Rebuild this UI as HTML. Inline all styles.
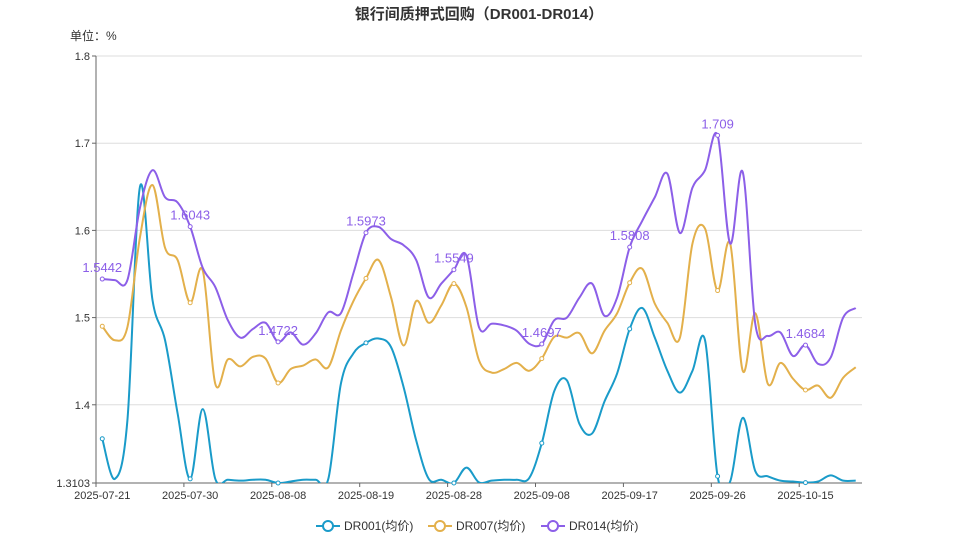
<!DOCTYPE html>
<html><head><meta charset="utf-8"><style>
body{margin:0;background:#fff;font-family:"Liberation Sans","Noto Sans CJK SC",sans-serif}
svg{display:block}
</style></head><body>
<svg id="chart" width="959" height="539" xmlns="http://www.w3.org/2000/svg" font-family="Liberation Sans, Noto Sans CJK SC, sans-serif">
<defs><clipPath id="plot"><rect x="96" y="40" width="770" height="443"/></clipPath></defs>
<text x="479" y="19" text-anchor="middle" font-size="15" font-weight="bold" fill="#333">银行间质押式回购（DR001-DR014）</text>
<text x="70" y="40" font-size="12" fill="#333">单位：%</text>
<g id="grid"></g><g id="axes"></g><g id="series"></g><g id="legend"></g>
</svg>
<script>
const dateLabels=["2025-07-21","2025-07-30","2025-08-08","2025-08-19","2025-08-28","2025-09-08","2025-09-17","2025-09-26","2025-10-15"];
const yTicks=[1.3103,1.4,1.5,1.6,1.7,1.8];
const dr001=[1.361,1.315,1.382,1.650,1.520,1.474,1.390,1.315,1.395,1.315,1.314,1.313,1.314,1.314,1.3103,1.312,1.314,1.314,1.315,1.424,1.459,1.471,1.476,1.466,1.420,1.359,1.315,1.314,1.3103,1.328,1.311,1.313,1.314,1.314,1.316,1.356,1.416,1.428,1.378,1.367,1.404,1.436,1.487,1.511,1.477,1.439,1.414,1.439,1.474,1.318,1.312,1.385,1.324,1.318,1.313,1.312,1.3107,1.312,1.319,1.313,1.313];
const dr007=[1.490,1.474,1.489,1.592,1.652,1.580,1.566,1.517,1.554,1.424,1.452,1.444,1.455,1.453,1.425,1.441,1.445,1.452,1.443,1.485,1.519,1.545,1.566,1.523,1.468,1.519,1.494,1.514,1.539,1.512,1.451,1.437,1.441,1.448,1.439,1.453,1.478,1.477,1.482,1.459,1.485,1.505,1.540,1.556,1.516,1.494,1.477,1.585,1.602,1.531,1.585,1.439,1.505,1.424,1.448,1.430,1.417,1.422,1.408,1.431,1.443];
const dr014=[1.5442,1.543,1.543,1.626,1.669,1.638,1.632,1.6043,1.557,1.535,1.497,1.477,1.487,1.494,1.4722,1.483,1.469,1.482,1.506,1.505,1.551,1.5973,1.604,1.590,1.583,1.566,1.523,1.539,1.5549,1.571,1.489,1.493,1.491,1.485,1.470,1.4697,1.497,1.500,1.523,1.539,1.502,1.523,1.5808,1.611,1.638,1.665,1.597,1.649,1.669,1.709,1.585,1.667,1.493,1.479,1.483,1.456,1.4684,1.447,1.454,1.500,1.511];
const seriesNames=["DR001(均价)","DR007(均价)","DR014(均价)"];
const colors=["#1a9bc9","#e3b04b","#8c5fe8"];
const NS="http://www.w3.org/2000/svg";
const L=96,R=862,T=56,B=483,N=dr014.length,yMin=1.3103,yMax=1.8;
const step=(R-L)/N;
const xs=i=>L+(i+0.5)*step;
const ys=v=>B-(v-yMin)/(yMax-yMin)*(B-T);
function mk(tag,attrs,parent){const e=document.createElementNS(NS,tag);for(const k in attrs)e.setAttribute(k,attrs[k]);parent.appendChild(e);return e;}
const grid=document.getElementById('grid'),axes=document.getElementById('axes'),ser=document.getElementById('series'),leg=document.getElementById('legend');
yTicks.forEach((t,i)=>{
  if(i>0){const g=mk('line',{x1:L,x2:R,y1:ys(t),y2:ys(t),stroke:'#ddd'},grid);
  
  }
  const tk=mk('line',{x1:L-4,x2:L,y1:ys(t),y2:ys(t),stroke:'#666'},axes);
  
  
  const tx=mk('text',{x:L-6,y:ys(t)+4,'text-anchor':'end','font-size':11,fill:'#333'},axes);
  tx.textContent=String(t);
  
  
});
const ya=mk('line',{x1:L,x2:L,y1:T,y2:B,stroke:'#666'},axes);


const xa=mk('line',{x1:L,x2:R,y1:B,y2:B,stroke:'#666'},axes);


dateLabels.forEach((d,k)=>{
  const i=k*7;
  const tk=mk('line',{x1:L+i*step,x2:L+i*step,y1:B,y2:B+4,stroke:'#666'},axes);
  
  
  const tx=mk('text',{x:xs(i),y:B+16,'text-anchor':'middle','font-size':11,fill:'#333'},axes);
  tx.textContent=d;
  
  
});
function smoothPath(vals){
  const p=vals.map((v,i)=>[xs(i),ys(v)]);let d='M'+p[0][0]+','+p[0][1];const s=0.17;
  for(let i=0;i<p.length-1;i++){const p0=p[i-1]||p[i],p1=p[i],p2=p[i+1],p3=p[i+2]||p2;
    const c1=[p1[0]+(p2[0]-p0[0])*s,p1[1]+(p2[1]-p0[1])*s],c2=[p2[0]-(p3[0]-p1[0])*s,p2[1]-(p3[1]-p1[1])*s];
    d+=` C${c1[0]},${c1[1]} ${c2[0]},${c2[1]} ${p2[0]},${p2[1]}`;}
  return d;}
[dr001,dr007,dr014].forEach((vals,si)=>{
  const path=mk('path',{d:smoothPath(vals),fill:'none',stroke:colors[si],'stroke-width':2,'clip-path':'url(#plot)'},ser);
  
  
  vals.forEach((v,i)=>{if(i%7)return;
    const c=mk('circle',{cx:xs(i),cy:ys(v),r:2,fill:'#fff',stroke:colors[si],'stroke-width':1},ser);
    
    
    if(si===2){const t=mk('text',{x:xs(i),y:ys(v)-7,'text-anchor':'middle','font-size':13,fill:colors[2]},ser);
      t.textContent=String(v);
      
      }
  });
});
const lx=[316,428,541];
seriesNames.forEach((n,si)=>{
  const g=mk('g',{},leg);
  
  
  mk('line',{x1:lx[si],x2:lx[si]+24,y1:526,y2:526,stroke:colors[si],'stroke-width':2},g);
  mk('circle',{cx:lx[si]+12,cy:526,r:5,fill:'#fff',stroke:colors[si],'stroke-width':2},g);
  const t=mk('text',{x:lx[si]+28,y:530,'font-size':12,fill:'#333'},g);t.textContent=n;
});
</script>
</body></html>
